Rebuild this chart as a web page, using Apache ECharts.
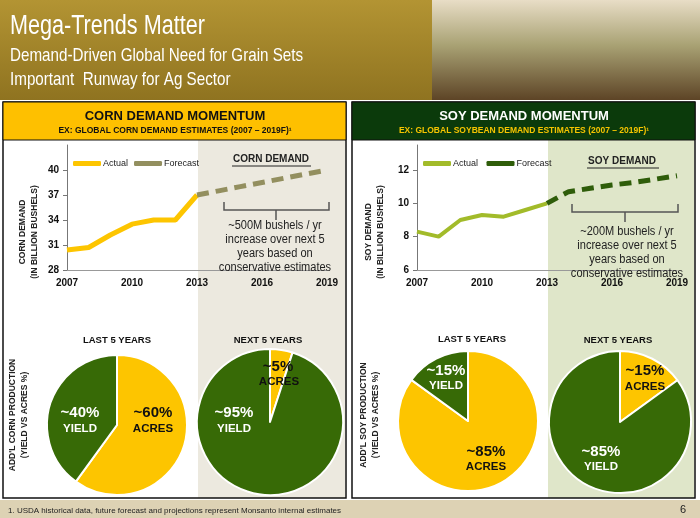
<!DOCTYPE html>
<html><head><meta charset="utf-8">
<script src="https://cdn.jsdelivr.net/npm/echarts@6/dist/echarts.min.js"></script>
<style>html,body{margin:0;padding:0;background:#fff}#c{width:700px;height:518px}</style>
</head><body><div id="c"></div>
<script>
// data
var cornActualYears = [2007, 2008, 2009, 2010, 2011, 2012, 2013];
var cornActual = [30.4, 30.7, 32.2, 33.5, 34.0, 34.0, 37.0];
var cornForecastYears = [2013, 2014, 2015, 2016, 2017, 2018, 2019];
var cornForecast = [37.0, 37.5, 38.0, 38.5, 39.0, 39.5, 40.0];
var soyActualYears = [2007, 2008, 2009, 2010, 2011, 2012, 2013];
var soyActual = [8.3, 8.0, 9.0, 9.3, 9.2, 9.6, 10.0];
var soyForecastYears = [2013, 2014, 2015, 2016, 2017, 2018, 2019];
var soyForecast = [10.0, 10.7, 10.9, 11.1, 11.25, 11.45, 11.65];
var cornLast5 = [60, 40];   // acres, yield
var cornNext5 = [5, 95];
var soyLast5 = [85, 15];
var soyNext5 = [15, 85];

var YEL = '#fdc500', GRN = '#376a06', F = 'Liberation Sans, Arial, sans-serif';
var chart = echarts.init(document.getElementById('c'));

function pair(xs, ys) { return xs.map(function (x, i) { return [x, ys[i]]; }); }
function txt(x, y, s, size, color, extra) {
    var o = {type: 'text', z: 100, x: x, y: y, style: {text: s, font: 'bold ' + size + 'px ' + F, fill: color, align: 'center', verticalAlign: 'middle'}};
    if (extra) for (var k in extra) o.style[k] = extra[k];
    return o;
}
function vtxt(x, y, s, size) {
    return {type: 'text', z: 100, x: x, y: y, rotation: Math.PI / 2, style: {text: s, font: 'bold ' + size + 'px ' + F, fill: '#222', align: 'center', verticalAlign: 'middle'}};
}
function narrow(x, y, s, size, sx) {
    return {type: 'text', x: x, y: y, scaleX: sx, style: {text: s, font: size + 'px ' + F, fill: '#fff', verticalAlign: 'middle'}};
}
function bracket(x1, x2, y) {
    return {type: 'polyline', z: 100, shape: {points: [[x1, y - 8], [x1, y], [x2, y], [x2, y - 8]]}, style: {stroke: '#555', lineWidth: 1.5, fill: null}};
}
function note(x, y, s) {
    return {type: 'text', z: 100, x: x, y: y, scaleX: 0.92, style: {text: s, font: '12px ' + F, fill: '#222', align: 'center', verticalAlign: 'middle', lineHeight: 14}};
}
function xAx(gi) {
    return {type: 'value', gridIndex: gi, min: 2007, max: 2019, interval: 3,
        axisLine: {lineStyle: {color: '#999'}}, axisTick: {show: false}, splitLine: {show: false},
        axisLabel: {color: '#111', fontWeight: 'bold', fontSize: 10, fontFamily: F, margin: 8, formatter: function (v) { return String(v); }}};
}
function yAx(gi, min, max, iv) {
    return {type: 'value', gridIndex: gi, min: min, max: max, interval: iv,
        axisLine: {show: true, lineStyle: {color: '#777'}}, axisTick: {show: true, length: 4, lineStyle: {color: '#777'}}, splitLine: {show: false},
        axisLabel: {color: '#111', fontWeight: 'bold', fontSize: 10, fontFamily: F, showMaxLabel: false}};
}
function pie(cx, cy, r, vals, names, colors) {
    return {type: 'pie', center: [cx, cy], radius: r, startAngle: 90, silent: true, label: {show: false},
        itemStyle: {borderColor: '#fff', borderWidth: 2},
        data: vals.map(function (v, i) { return {value: v, name: names[i], itemStyle: {color: colors[i]}}; })};
}
function line(name, xs, ys, color, w, dash) {
    var gi = name.slice(-1) === ' ' ? 1 : 0;
    return {name: name, type: 'line', xAxisIndex: gi, yAxisIndex: gi,
        data: pair(xs, ys), symbol: 'none', lineStyle: {color: color, width: w, type: dash || 'solid'}, itemStyle: {color: color}};
}

var option = {
    animation: false,
    grid: [
        {left: 67, right: 373, top: 145, bottom: 248},
        {left: 417, right: 23, top: 145, bottom: 248}
    ],
    xAxis: [xAx(0), xAx(1)],
    yAxis: [yAx(0, 28, 43, 3), yAx(1, 6, 13.5, 2)],
    legend: [
        {left: 68, top: 154, icon: 'roundRect', itemWidth: 28, itemHeight: 5, itemGap: 6, data: ['Actual', 'Forecast'],
            textStyle: {fontSize: 9, color: '#222', padding: [0, 0, 0, -3]}},
        {left: 418, top: 154, icon: 'roundRect', itemWidth: 28, itemHeight: 5, itemGap: 6, data: ['Actual ', 'Forecast '],
            textStyle: {fontSize: 9, color: '#222', padding: [0, 0, 0, -3]}}
    ],
    series: [
        line('Actual', cornActualYears, cornActual, YEL, 5),
        line('Forecast', cornForecastYears, cornForecast, '#938f5f', 5, [12, 7]),
        line('Actual ', soyActualYears, soyActual, '#a2bb2a', 4),
        line('Forecast ', soyForecastYears, soyForecast, '#2f5d0a', 5, [12, 7]),
        pie(117, 425, 70, cornLast5, ['ACRES', 'YIELD'], [YEL, GRN]),
        pie(270, 422, 73, cornNext5, ['ACRES', 'YIELD'], [YEL, GRN]),
        pie(468, 421, 70, soyLast5, ['ACRES', 'YIELD'], [YEL, GRN]),
        pie(620, 422, 71, soyNext5, ['ACRES', 'YIELD'], [YEL, GRN])
    ],
    graphic: [
        // header
        {type: 'rect', z: -10, shape: {x: 0, y: 0, width: 700, height: 100}, style: {fill: new echarts.graphic.LinearGradient(0, 0, 0, 1, [{offset: 0, color: '#b39433'}, {offset: 1, color: '#8f7320'}])}},
        {type: 'rect', z: -9, shape: {x: 432, y: 0, width: 268, height: 100}, style: {fill: new echarts.graphic.LinearGradient(0, 0, 0, 1, [{offset: 0, color: '#e8ddc6'}, {offset: 0.45, color: '#a9a274'}, {offset: 1, color: '#5d4426'}])}},
        narrow(10, 27, 'Mega-Trends Matter', 27, 0.8),
        narrow(10, 56, 'Demand-Driven Global Need for Grain Sets', 19, 0.8),
        narrow(10, 80, 'Important  Runway for Ag Sector', 19, 0.8),
        // footer
        {type: 'rect', z: -10, shape: {x: 0, y: 500, width: 700, height: 18}, style: {fill: '#ddd2b4'}},
        {type: 'text', x: 8, y: 511, style: {text: '1. USDA historical data, future forecast and projections represent Monsanto internal estimates', font: '8px ' + F, fill: '#222', verticalAlign: 'middle'}},
        {type: 'text', x: 680, y: 510, style: {text: '6', font: '11px ' + F, fill: '#222', verticalAlign: 'middle'}},
        // panels
        {type: 'rect', z: -8, shape: {x: 198, y: 140, width: 147, height: 358}, style: {fill: '#ece9df'}},
        {type: 'rect', z: -8, shape: {x: 548, y: 140, width: 146, height: 358}, style: {fill: '#dfe6c9'}},
        {type: 'rect', z: -7, shape: {x: 3, y: 102, width: 343, height: 396}, style: {fill: null, stroke: '#111', lineWidth: 1.5}},
        {type: 'rect', z: -7, shape: {x: 352, y: 102, width: 343, height: 396}, style: {fill: null, stroke: '#111', lineWidth: 1.5}},
        {type: 'rect', z: -6, shape: {x: 3, y: 102, width: 343, height: 38}, style: {fill: '#fec000', stroke: '#111', lineWidth: 1}},
        {type: 'rect', z: -6, shape: {x: 352, y: 102, width: 343, height: 38}, style: {fill: '#0b3a0b', stroke: '#111', lineWidth: 1}},
        txt(175, 116, 'CORN DEMAND MOMENTUM', 13, '#111'),
        txt(175, 131, 'EX: GLOBAL CORN DEMAND ESTIMATES (2007 \u2013 2019F)\u00b9', 8.5, '#111'),
        txt(524, 116, 'SOY DEMAND MOMENTUM', 13, '#fff'),
        txt(524, 131, 'EX: GLOBAL SOYBEAN DEMAND ESTIMATES (2007 \u2013 2019F)\u00b9', 8.5, '#f5c400'),
        // corn annotations
        txt(271, 159, 'CORN DEMAND', 10, '#222'),
        {type: 'line', z: 100, shape: {x1: 232, y1: 166, x2: 311, y2: 166}, style: {stroke: '#222', lineWidth: 1}},
        bracket(224, 329, 210),
        {type: 'line', z: 100, shape: {x1: 276, y1: 210, x2: 276, y2: 220}, style: {stroke: '#555', lineWidth: 1.5}},
        note(275, 247, '~500M bushels / yr\nincrease over next 5\nyears based on\nconservative estimates'),
        vtxt(23, 232, 'CORN DEMAND', 8.5), vtxt(35, 232, '(IN BILLION BUSHELS)', 8.5),
        txt(117, 340, 'LAST 5 YEARS', 9.5, '#111'), txt(268, 340, 'NEXT 5 YEARS', 9.5, '#111'),
        vtxt(13, 415, "ADD'L CORN PRODUCTION", 8.5), vtxt(25, 415, '(YIELD VS ACRES %)', 8.5),
        txt(80, 413, '~40%', 15, '#fff'), txt(80, 429, 'YIELD', 11.5, '#fff'),
        txt(153, 413, '~60%', 15, '#111'), txt(153, 429, 'ACRES', 11.5, '#111'),
        txt(234, 413, '~95%', 15, '#fff'), txt(234, 429, 'YIELD', 11.5, '#fff'),
        txt(278, 367, '~5%', 15, '#111'), txt(279, 382, 'ACRES', 11.5, '#111'),
        // soy annotations
        txt(622, 161, 'SOY DEMAND', 10, '#222'),
        {type: 'line', z: 100, shape: {x1: 587, y1: 168, x2: 659, y2: 168}, style: {stroke: '#222', lineWidth: 1}},
        bracket(572, 678, 212),
        {type: 'line', z: 100, shape: {x1: 625, y1: 212, x2: 625, y2: 222}, style: {stroke: '#555', lineWidth: 1.5}},
        note(627, 253, '~200M bushels / yr\nincrease over next 5\nyears based on\nconservative estimates'),
        vtxt(369, 232, 'SOY DEMAND', 8.5), vtxt(381, 232, '(IN BILLION BUSHELS)', 8.5),
        txt(472, 339, 'LAST 5 YEARS', 9.5, '#111'), txt(618, 340, 'NEXT 5 YEARS', 9.5, '#111'),
        vtxt(364, 415, "ADD'L SOY PRODUCTION", 8.5), vtxt(376, 415, '(YIELD VS ACRES %)', 8.5),
        txt(446, 371, '~15%', 15, '#fff'), txt(446, 386, 'YIELD', 11.5, '#fff'),
        txt(486, 452, '~85%', 15, '#111'), txt(486, 467, 'ACRES', 11.5, '#111'),
        txt(645, 371, '~15%', 15, '#111'), txt(645, 387, 'ACRES', 11.5, '#111'),
        txt(601, 452, '~85%', 15, '#fff'), txt(601, 467, 'YIELD', 11.5, '#fff')
    ]
};
chart.setOption(option);
</script></body></html>
